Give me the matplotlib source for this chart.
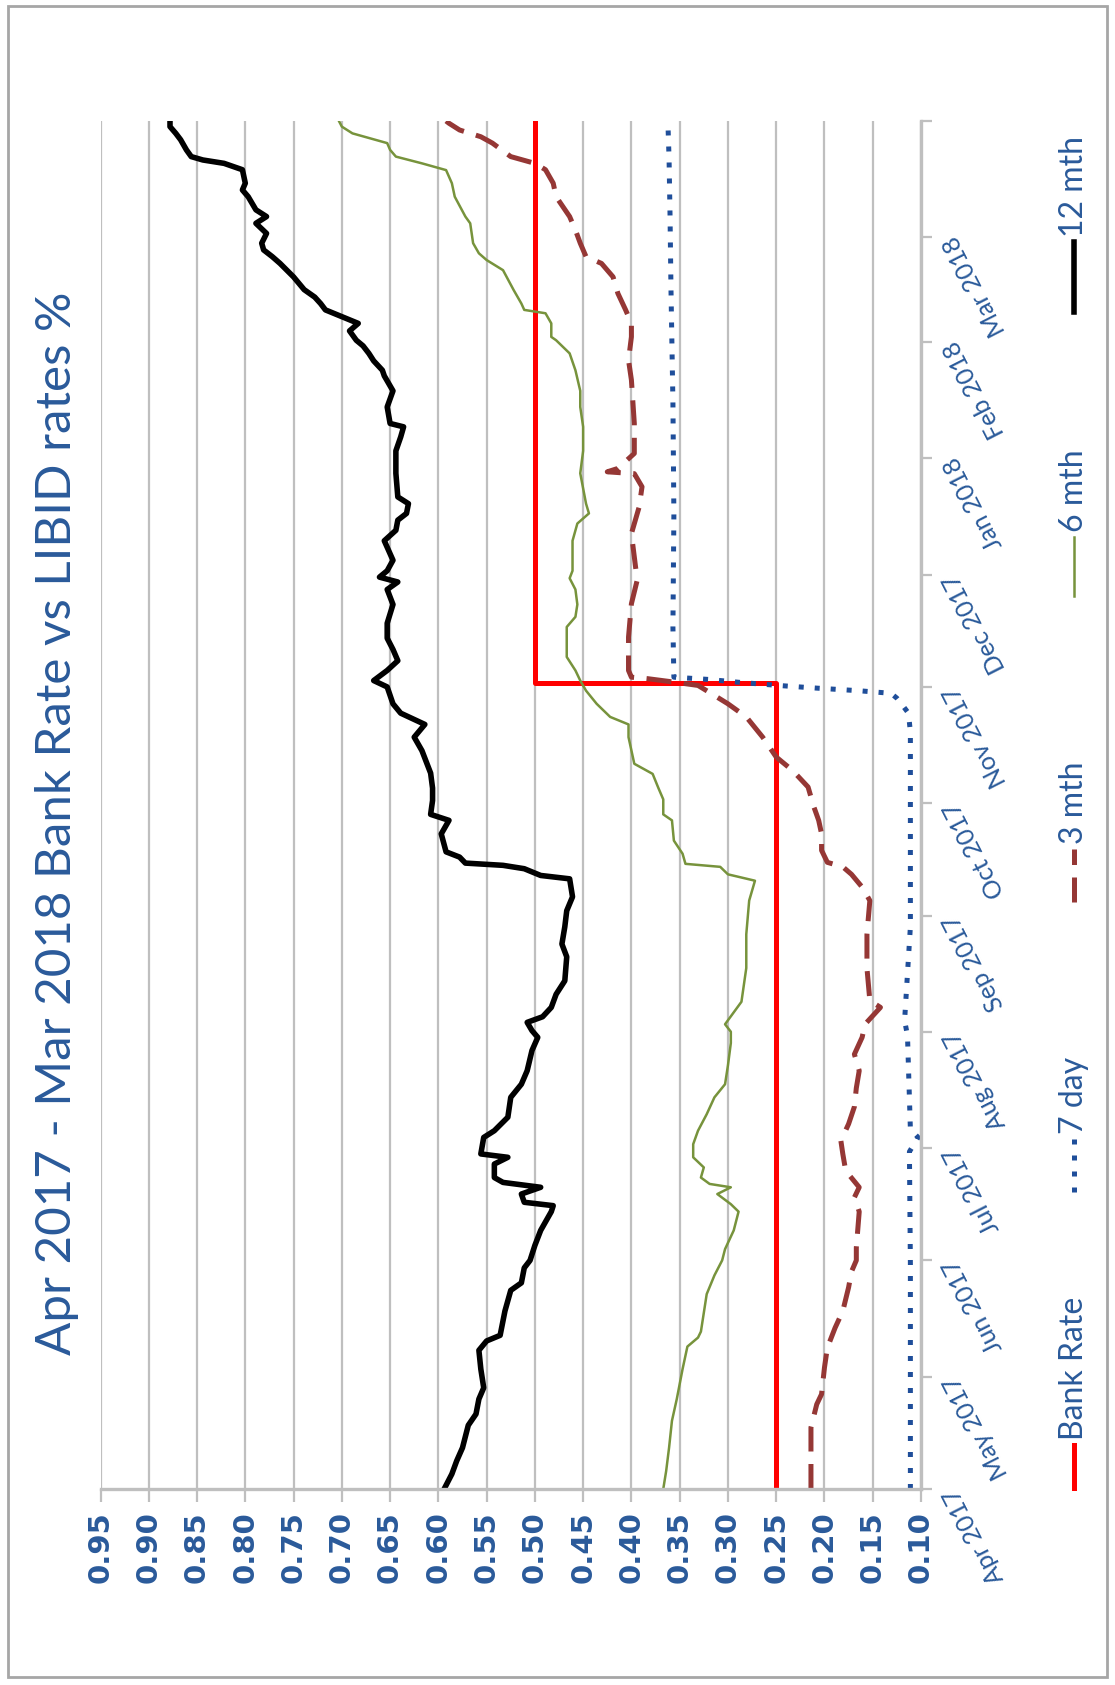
import matplotlib
matplotlib.use("Agg")
import matplotlib.pyplot as plt
from matplotlib.lines import Line2D
from matplotlib.patches import Rectangle
import numpy as np
import pandas as pd

# Bank Rate vs LIBID rates, Apr 2017 - Mar 2018 (chart is drawn turned on its side)
start = pd.Timestamp("2017-04-01")
end = pd.Timestamp("2018-04-01")

# days after 1 Apr 2017, rate %
days_12m = [0, 4, 7.5, 11, 17, 20, 24, 27, 32, 37, 39.5, 41, 47.5, 53, 55, 59, 61, 65, 69, 74,
            75.6, 76.5, 78.7, 80.5, 81.8, 83.1, 86.7, 88.5, 89.4, 93.8, 95.6, 99.2, 104.5, 108,
            111.6, 117, 120.5, 122.3, 124.5, 126, 128.5, 132, 135.6, 142, 145.4, 150, 154.3, 158,
            162.8, 163.7, 165.5, 166.4, 167, 168.6, 170, 174.8, 178.4, 180, 183.7, 187, 191, 197,
            200.6, 204, 207, 209.5, 214, 215.7, 218.4, 221, 224, 227, 231, 236, 240, 242, 243.3,
            245, 247.8, 253, 255.8, 258.5, 260.3, 262.9, 264.7, 271, 277, 280.7, 283.4, 284.3,
            288.7, 293, 297, 298.5, 301, 303, 305, 306.5, 309, 311, 314.6, 316.3, 318, 320, 323.4,
            327, 328.8, 330.6, 332.4, 335, 337.7, 339.5, 341.3, 344.8, 346.6, 348.4, 352, 353.7,
            354.6, 355.5, 357.3, 360, 361.7, 363.5, 365]
rates_12m = [0.594, 0.586, 0.581, 0.575, 0.569, 0.561, 0.558, 0.553, 0.556, 0.558, 0.550, 0.536,
             0.531, 0.525, 0.514, 0.511, 0.505, 0.500, 0.494, 0.483, 0.481, 0.511, 0.514, 0.494,
             0.533, 0.542, 0.542, 0.528, 0.556, 0.553, 0.542, 0.528, 0.525, 0.514, 0.508, 0.503,
             0.497, 0.503, 0.508, 0.492, 0.483, 0.478, 0.469, 0.467, 0.472, 0.469, 0.467, 0.461,
             0.464, 0.494, 0.511, 0.533, 0.572, 0.578, 0.592, 0.597, 0.589, 0.608, 0.606, 0.606,
             0.608, 0.617, 0.625, 0.614, 0.639, 0.647, 0.653, 0.667, 0.653, 0.642, 0.647, 0.653,
             0.653, 0.647, 0.653, 0.642, 0.661, 0.653, 0.647, 0.656, 0.644, 0.642, 0.633, 0.631,
             0.642, 0.644, 0.644, 0.639, 0.636, 0.650, 0.653, 0.647, 0.656, 0.658, 0.667, 0.672,
             0.678, 0.685, 0.692, 0.683, 0.717, 0.722, 0.728, 0.739, 0.750, 0.764, 0.772, 0.781,
             0.783, 0.778, 0.789, 0.778, 0.789, 0.797, 0.803, 0.800, 0.803, 0.822, 0.844, 0.856,
             0.861, 0.867, 0.872, 0.878, 0.878]

days_6m = [0, 4.8, 11, 18.2, 24, 32, 38, 40.4, 42, 52, 57, 61, 64, 69, 74, 76, 78.7, 80.5, 81.4,
           83.1, 85.8, 88.5, 92, 95.6, 100, 104.5, 108, 113, 119, 122, 124, 130, 139, 148, 157,
           162.3, 164, 166, 166.8, 169.5, 173, 178.4, 180, 184, 187, 190.8, 193.5, 200.6, 204, 206,
           209.5, 213, 215.7, 218.4, 222, 227, 230, 232.7, 236, 240, 243, 245, 247.8, 253, 257.6,
           260.3, 262.9, 271, 277, 283.4, 288.7, 293, 298.5, 303, 306.5, 307.4, 311, 313.7, 314.6,
           316.3, 319.9, 325.2, 327.9, 329.7, 332.4, 337.7, 339.5, 344.8, 348.4, 351.9, 353.7,
           355.5, 357.3, 359.1, 361.7, 363.5, 365]
rates_6m = [0.367, 0.364, 0.361, 0.358, 0.353, 0.347, 0.342, 0.331, 0.328, 0.322, 0.314, 0.306,
            0.303, 0.294, 0.289, 0.297, 0.311, 0.297, 0.319, 0.328, 0.325, 0.336, 0.336, 0.331,
            0.322, 0.314, 0.303, 0.300, 0.297, 0.297, 0.303, 0.286, 0.281, 0.281, 0.278, 0.272,
            0.300, 0.308, 0.344, 0.347, 0.356, 0.358, 0.367, 0.367, 0.372, 0.378, 0.397, 0.403,
            0.403, 0.422, 0.436, 0.447, 0.453, 0.458, 0.467, 0.467, 0.467, 0.458, 0.456, 0.458,
            0.464, 0.461, 0.461, 0.461, 0.456, 0.444, 0.447, 0.453, 0.450, 0.450, 0.453, 0.453,
            0.458, 0.464, 0.478, 0.483, 0.483, 0.489, 0.511, 0.514, 0.522, 0.533, 0.550, 0.558,
            0.564, 0.567, 0.572, 0.583, 0.586, 0.592, 0.617, 0.644, 0.650, 0.653, 0.689, 0.700,
            0.703]

days_3m = [0, 5.7, 16.4, 22.6, 25.3, 32.4, 37.7, 43, 47.5, 53.8, 58, 61, 64.4, 74, 77.8, 80.5,
           84.9, 89.4, 92.9, 97.4, 102, 107, 111.6, 116, 120.5, 124, 128.5, 130.3, 139, 148, 157,
           160.6, 164, 166, 167.2, 170.4, 174.8, 178.4, 182, 187.3, 191.7, 195.3, 200.6, 206,
           209.5, 212.2, 214.4, 215.3, 216.2, 216.6, 218.4, 227.3, 236.2, 242.5, 248.7, 254.9,
           262, 267.4, 270.9, 271.4, 272.3, 276.3, 284.3, 295.9, 301.2, 307.4, 311, 314.6, 319,
           323.4, 327, 328.8, 332.4, 335.9, 339.5, 344.8, 348.4, 352, 353.7, 355.5, 359.1, 360.8,
           362.6, 364.4, 365]
rates_3m = [0.214, 0.214, 0.214, 0.208, 0.203, 0.200, 0.197, 0.189, 0.181, 0.175, 0.172, 0.167,
            0.167, 0.164, 0.169, 0.164, 0.178, 0.181, 0.183, 0.175, 0.169, 0.167, 0.164, 0.169,
            0.161, 0.158, 0.142, 0.153, 0.156, 0.156, 0.153, 0.161, 0.172, 0.181, 0.197, 0.203,
            0.203, 0.206, 0.211, 0.217, 0.233, 0.250, 0.264, 0.281, 0.300, 0.317, 0.331, 0.356,
            0.383, 0.400, 0.403, 0.403, 0.400, 0.394, 0.397, 0.400, 0.392, 0.389, 0.397, 0.425,
            0.414, 0.397, 0.397, 0.400, 0.403, 0.400, 0.400, 0.406, 0.414, 0.419, 0.431, 0.447,
            0.453, 0.458, 0.464, 0.478, 0.481, 0.489, 0.500, 0.525, 0.544, 0.556, 0.578, 0.589,
            0.592]

days_7d = [0, 30, 60, 90, 93.8, 96, 121, 125, 150, 180, 202, 207, 209.4, 211, 212.3, 213, 213.7,
           214.4, 215.2, 216, 216.6, 230, 260, 290, 320, 340, 355, 363, 365]
rates_7d = [0.111, 0.111, 0.111, 0.112, 0.103, 0.111, 0.114, 0.117, 0.111, 0.111, 0.111, 0.113,
            0.120, 0.125, 0.131, 0.165, 0.209, 0.248, 0.287, 0.320, 0.356, 0.357, 0.356, 0.357,
            0.359, 0.360, 0.361, 0.362, 0.362]

bank_dates = ["2017-04-01", "2017-11-02", "2017-11-02", "2018-04-01"]
bank_rate = [0.25, 0.25, 0.50, 0.50]

value_ticks = [0.95, 0.90, 0.85, 0.80, 0.75, 0.70, 0.65, 0.60, 0.55,
               0.50, 0.45, 0.40, 0.35, 0.30, 0.25, 0.20, 0.15, 0.10]
month_labels = ["Apr 2017", "May 2017", "Jun 2017", "Jul 2017", "Aug 2017", "Sep 2017",
                "Oct 2017", "Nov 2017", "Dec 2017", "Jan 2018", "Feb 2018", "Mar 2018", ""]

BLUE = "#2A5A9A"
GRID = "#BFBFBF"
W, H = 1115, 1685


def fx(px):
    return px / W


def fy(py):
    return 1 - py / H


def to_dates(days):
    return start + pd.to_timedelta(np.asarray(days, float), unit="D")


fig = plt.figure(figsize=(W / 100, H / 100), dpi=100)
ax = fig.add_axes([fx(100.5), fy(1489), fx(921) - fx(100.5), fy(121) - fy(1489)])

ax.plot(bank_rate, pd.to_datetime(bank_dates), color="#FF0000", lw=3.6)
ax.plot(rates_7d, to_dates(days_7d), color="#1F4E9A", lw=3.6, linestyle=(0, (1, 2.2)))
ax.plot(rates_3m, to_dates(days_3m), color="#953735", lw=3.6, linestyle=(0, (5, 2.5)))
ax.plot(rates_6m, to_dates(days_6m), color="#77933C", lw=1.8)
ax.plot(rates_12m, to_dates(days_12m), color="black", lw=4)

ax.set_xlim(0.95, 0.10)
ax.set_ylim(start, end)

ax.set_xticks(value_ticks)
ax.set_xticklabels([f"{v:.2f}" for v in value_ticks], rotation=90,
                   fontsize=21, fontweight="bold", color=BLUE)
ax.grid(axis="x", color=GRID, lw=1.6)
ax.set_axisbelow(True)
ax.tick_params(axis="x", direction="out", length=9, width=1.6, color=GRID, pad=7)

ax.yaxis.tick_right()
ax.set_yticks(pd.date_range(start, end, freq="MS"))
ax.set_yticklabels(month_labels, rotation=117, rotation_mode="anchor",
                   ha="right", va="center", fontsize=18, color=BLUE, family="Lato")
ax.tick_params(axis="y", direction="out", length=8, width=1.6, color=GRID, pad=13)

for side in ["top", "left"]:
    ax.spines[side].set_visible(False)
for side in ["bottom", "right"]:
    ax.spines[side].set_color(GRID)
    ax.spines[side].set_linewidth(2.4)

# title, written up the left edge
fig.text(fx(57), fy(823), "Apr 2017 - Mar 2018 Bank Rate vs LIBID rates %",
         rotation=90, ha="center", va="center", fontsize=35.5, color=BLUE, family="Lato")

# legend down the right edge
legend_items = [
    ("Bank Rate", dict(color="#FF0000", lw=3.6), 1488, 1445),
    ("7 day", dict(color="#1F4E9A", lw=3.6, linestyle=(0, (1, 2.2))), 1192, 1139),
    ("3 mth", dict(color="#953735", lw=3.6, linestyle=(0, (5, 2.5))), 902, 849),
    ("6 mth", dict(color="#77933C", lw=1.8), 596, 537),
    ("12 mth", dict(color="black", lw=4), 312, 242),
]
lx = fx(1074)
for label, style, y0, y1 in legend_items:
    fig.add_artist(Line2D([lx, lx], [fy(y0), fy(y1)], transform=fig.transFigure, **style))
    fig.text(lx, fy(y1 - 5), label, rotation=90, ha="center", va="bottom",
             fontsize=23, color=BLUE, family="Lato")

fig.add_artist(Rectangle((fx(8), fy(1677)), fx(1107) - fx(8), fy(6) - fy(1677),
                         transform=fig.transFigure, fill=False, ec="#A6A6A6", lw=2))

fig.savefig("out.png", dpi=100)
